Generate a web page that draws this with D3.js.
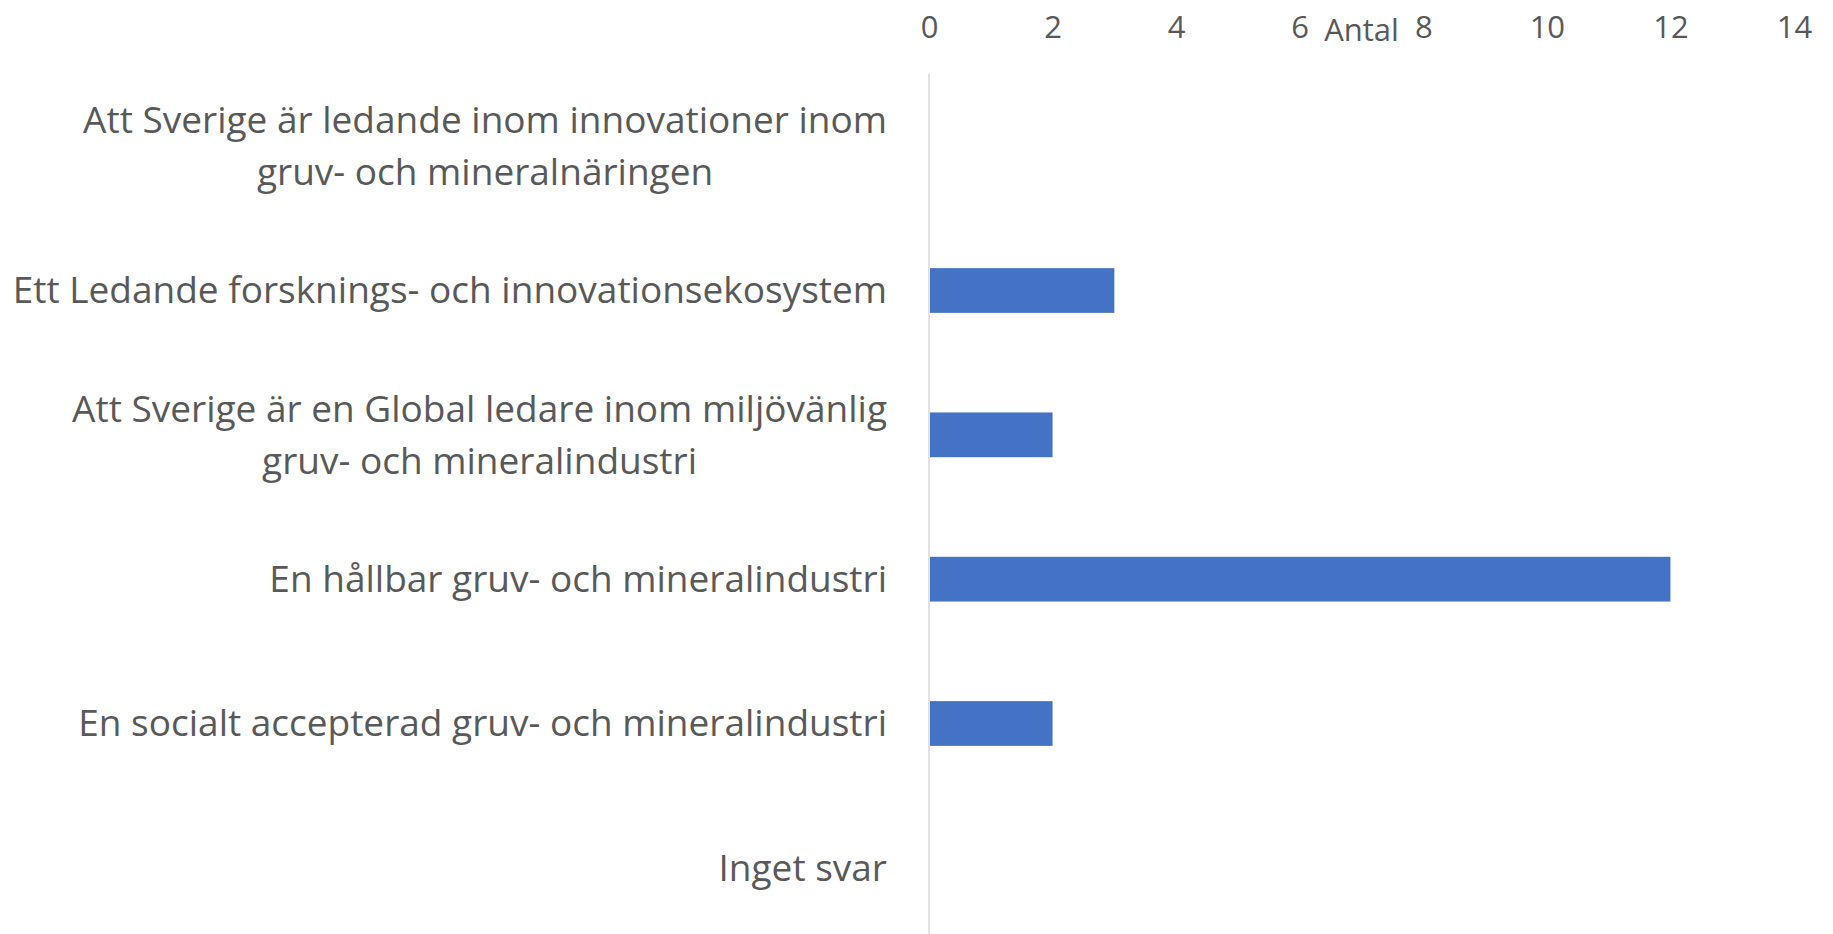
<!DOCTYPE html>
<html>
<head>
<meta charset="utf-8">
<script src="https://cdn.jsdelivr.net/npm/d3@7"></script>
<style>
  body { margin: 0; background: #fff; }
  text { font-family: "Open Sans", sans-serif; fill: #595959; }
</style>
</head>
<body>
<script>
// categories, top to bottom (\n = line break as in the original)
var categories = [
    "Att Sverige är ledande inom innovationer inom\ngruv- och mineralnäringen",
    "Ett Ledande forsknings- och innovationsekosystem",
    "Att Sverige är en Global ledare inom miljövänlig\ngruv- och mineralindustri",
    "En hållbar gruv- och mineralindustri",
    "En socialt accepterad gruv- och mineralindustri",
    "Inget svar"
];
var values = [0, 3, 2, 12, 2, 0];
var xTicks = [0, 2, 4, 6, 8, 10, 12, 14];
var axisTitle = "Antal";

var width = 1833, height = 934;

var svg = d3.select("body").append("svg")
    .attr("width", width)
    .attr("height", height);

var x = d3.scaleLinear()
    .domain([0, 14])
    .range([929, 1794]);

var y = d3.scaleBand()
    .domain(categories)
    .range([74, 940])
    .paddingInner(0.69)
    .paddingOuter(0.345);

// vertical category axis line
svg.append("line")
    .attr("x1", x(0)).attr("x2", x(0))
    .attr("y1", 74).attr("y2", height)
    .attr("stroke", "#d9d9d9")
    .attr("stroke-width", 1.5);

// bars
svg.selectAll("rect.bar")
    .data(categories)
    .enter()
    .append("rect")
    .attr("class", "bar")
    .attr("x", x(0) + 1)
    .attr("y", function (d) { return y(d); })
    .attr("width", function (d, i) { return Math.max(0, x(values[i]) - x(0) - 1); })
    .attr("height", y.bandwidth())
    .attr("fill", "#4472c4");

// top value axis (labels only)
var xAxis = svg.append("g")
    .attr("transform", "translate(0,38)")
    .call(d3.axisTop(x).tickValues(xTicks).tickSize(0).tickPadding(0));
xAxis.select(".domain").remove();
xAxis.selectAll("text")
    .style("font-family", "'Open Sans', sans-serif")
    .style("font-size", "31px")
    .attr("fill", "#595959");

svg.append("text")
    .attr("x", (x(0) + x(14)) / 2)
    .attr("y", 41)
    .attr("text-anchor", "middle")
    .style("font-size", "31px")
    .text(axisTitle);

// category labels, wrapped lines centred within the block, block right-aligned
var labelRight = 887, lineH = 51.5;
categories.forEach(function (c) {
    var lines = c.split("\n");
    var g = svg.append("text")
        .style("font-size", "37px")
        .attr("text-anchor", "middle");
    var cy = y(c) + y.bandwidth() / 2;
    lines.forEach(function (l, j) {
        g.append("tspan")
            .attr("x", 0)
            .attr("y", cy + (j - (lines.length - 1) / 2) * lineH)
            .attr("dy", "0.35em")
            .text(l);
    });
    var w = d3.max(g.selectAll("tspan").nodes(), function (n) { return n.getComputedTextLength(); });
    g.selectAll("tspan").attr("x", labelRight - w / 2);
});
</script>
</body>
</html>
